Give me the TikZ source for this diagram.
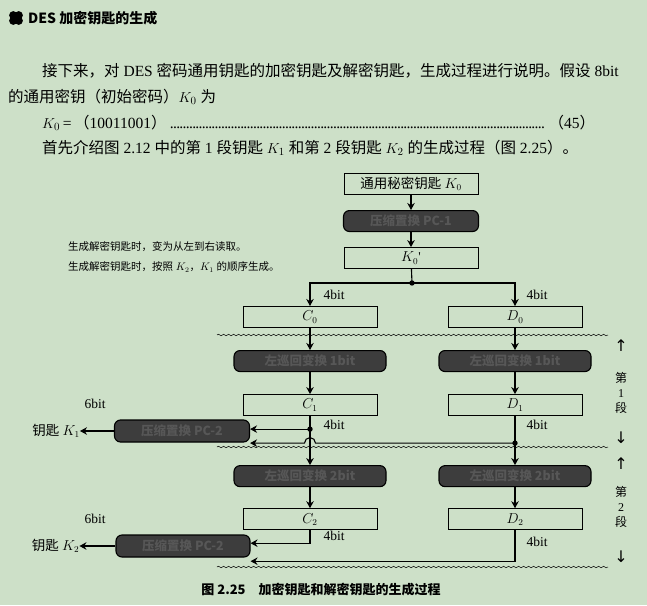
\documentclass[tikz,border=0pt]{standalone}
\usepackage{fontspec}
\setmainfont{Liberation Serif}
\newfontfamily\cjk{Noto Sans CJK SC}
\newfontfamily\symfont{DejaVu Sans}
\usetikzlibrary{positioning,arrows.meta,calc,decorations.pathmorphing}
\definecolor{bgmint}{RGB}{205,224,200}
\newcommand\zh[1]{{\cjk #1}}

\tikzset{
	bodytext/.style={anchor=west, inner sep=0pt, font=\fontsize{15.5}{18}\selectfont},
	notetext/.style={anchor=west, inner sep=0pt, font=\fontsize{10.5}{12}\selectfont},
	plainbox/.style={draw, line width=1pt, minimum width=134pt, minimum height=21pt, inner sep=0pt, font=\fontsize{13.5}{15}\selectfont},
	darkbox/.style={draw, line width=1.1pt, rounded corners=6pt, fill=black!76, text=black!66, minimum width=152pt, minimum height=21pt, inner sep=0pt, font=\cjk\bfseries\fontsize{12.5}{14}\selectfont},
	bitlabel/.style={inner sep=0pt, font=\fontsize{13.5}{15}\selectfont},
	arr/.style={-{Stealth[length=7pt,width=7.5pt]}, line width=1.1pt},
	junction/.style={circle, fill, inner sep=1.9pt},
	wave/.style={decorate, decoration={snake, amplitude=0.8pt, segment length=5pt}, line width=0.5pt}
}

\begin{document}
\begin{tikzpicture}[x=1pt, y=-1pt]
	\fill[bgmint] (0,0) rectangle (647,605);
	\useasboundingbox (0,0) rectangle (647,605);

	% heading and text
	\foreach \a in {45,135,225,315}
		\fill (16,18) ++(\a:3.8pt) circle (4.2pt);
	\node[anchor=west, inner sep=0pt, font=\cjk\bfseries\fontsize{14}{16}\selectfont] (title) at (28,18) {DES 加密钥匙的生成};
	\node[bodytext] (line1) at (42,71) {\zh{接下来，对} DES \zh{密码通用钥匙的加密钥匙及解密钥匙，生成过程进行说明。假设} 8bit};
	\node[bodytext] (line2) at (8,97) {\zh{的通用密钥（初始密码）}$K_0$ \zh{为}};
	\node[bodytext] (line3) at (42,123) {\makebox[553pt][l]{$K_0$\,=\,\zh{（}10011001\zh{）}\,\leaders\hbox to 3.2pt{\hss.\hss}\hfill\,\zh{（}45\zh{）}}};
	\node[bodytext] (line4) at (42,148) {\zh{首先介绍图} 2.12 \zh{中的第} 1 \zh{段钥匙} $K_1$ \zh{和第} 2 \zh{段钥匙} $K_2$ \zh{的生成过程（图} 2.25\zh{）。}};

	\node[notetext] (note1) at (68,247) {\zh{生成解密钥匙时，变为从左到右读取。}};
	\node[notetext] (note2) at (68,267) {\zh{生成解密钥匙时，按照} $K_2$\zh{，}$K_1$ \zh{的顺序生成。}};

	% main chain
	\node[plainbox] (k0) at (411,184) {\zh{通用秘密钥匙} $K_0$};
	\node[darkbox, minimum width=135pt] (pc1) [below=15pt of k0] {压缩置换 PC-1};
	\node[plainbox] (k0p) [below=15pt of pc1] {$K_0$\textquotesingle};
	\coordinate (split) at (412,283);

	\node[plainbox] (c0) at (310,317) {$C_0$};
	\node[plainbox] (d0) at (515,317) {$D_0$};
	\node[darkbox] (sc1) [below=22pt of c0] {左巡回变换 1bit};
	\node[darkbox] (sd1) [below=22pt of d0] {左巡回变换 1bit};
	\node[plainbox] (c1) [below=22pt of sc1] {$C_1$};
	\node[plainbox] (d1) [below=22pt of sd1] {$D_1$};
	\node[darkbox] (sc2) [below=49pt of c1] {左巡回变换 2bit};
	\node[darkbox] (sd2) [below=49pt of d1] {左巡回变换 2bit};
	\node[plainbox] (c2) [below=21pt of sc2] {$C_2$};
	\node[plainbox] (d2) [below=21pt of sd2] {$D_2$};

	\node[darkbox, minimum width=135pt, minimum height=22pt] (pca) at (182,431) {压缩置换 PC-2};
	\node[darkbox, minimum width=134pt, minimum height=22pt] (pcb) at (183,546) {压缩置换 PC-2};
	\node[bodytext, anchor=east, font=\fontsize{13.5}{15}\selectfont] (key1) [left=34pt of pca] {\zh{钥匙} $K_1$};
	\node[bodytext, anchor=east, font=\fontsize{13.5}{15}\selectfont] (key2) [left=36pt of pcb] {\zh{钥匙} $K_2$};

	\coordinate[below=13pt of c1] (jc1);
	\coordinate[below=27pt of d1] (jd1);
	\coordinate[below=13pt of c2] (jc2);
	\coordinate[below=31pt of d2] (jd2);

	% waves
	\draw[wave] (217,335) -- (608,335);
	\draw[wave] (217,447) -- (608,447);
	\draw[wave] (217,567) -- (608,567);

	% connectors
	\draw[arr] (k0) -- (pc1);
	\draw[arr] (pc1) -- (k0p);
	\draw[line width=1.1pt] (k0p) -- (split);
	\node[junction] at (split) {};
	\draw[arr] (split) -| (c0);
	\draw[arr] (split) -| (d0);

	\draw[arr] (c0) -- (sc1);
	\draw[arr] (d0) -- (sd1);
	\draw[arr] (sc1) -- (c1);
	\draw[arr] (sd1) -- (d1);
	\draw[arr] (c1) -- (sc2);
	\draw[arr] (d1) -- (sd2);
	\node[junction] at (jc1) {};
	\node[junction] at (jd1) {};
	\draw[arr] (jc1) -- (jc1 -| pca.east);
	\draw[arr] (jd1) -- ($(jd1 -| c1)+(5.5pt,0)$) arc[start angle=0, end angle=180, radius=5.5pt] -- (jd1 -| pca.east);
	\draw[arr] (pca) -- (key1);

	\draw[arr] (sc2) -- (c2);
	\draw[arr] (sd2) -- (d2);
	\draw[arr] (c2) -- (jc2) -- (jc2 -| pcb.east);
	\draw[arr] (d2) -- (jd2) -- (jd2 -| pcb.east);
	\draw[arr] (pcb) -- (key2);

	% labels
	\node[bitlabel] (b0l) at (334,295) {4bit};
	\node[bitlabel] (b0r) at (537,295) {4bit};
	\node[bitlabel] (b1l) at (334,425) {4bit};
	\node[bitlabel] (b1r) at (537,425) {4bit};
	\node[bitlabel] (b2l) at (334,536) {4bit};
	\node[bitlabel] (b2r) at (537,542) {4bit};
	\node[bitlabel] (six1) at (95,404) {6bit};
	\node[bitlabel] (six2) at (95,519) {6bit};

	\node[inner sep=0pt, font=\symfont\fontsize{16}{16}\selectfont] (up1) at (621,346) {↑};
	\node[inner sep=0pt, align=center, font=\fontsize{12}{15}\selectfont] (seg1) at (621,393) {\zh{第}\\1\\\zh{段}};
	\node[inner sep=0pt, font=\symfont\fontsize{16}{16}\selectfont] (down1) at (621,438) {↓};
	\node[inner sep=0pt, font=\symfont\fontsize{16}{16}\selectfont] (up2) at (621,464) {↑};
	\node[inner sep=0pt, align=center, font=\fontsize{12}{15}\selectfont] (seg2) at (621,507) {\zh{第}\\2\\\zh{段}};
	\node[inner sep=0pt, font=\symfont\fontsize{16}{16}\selectfont] (down2) at (621,557) {↓};

	\node[inner sep=0pt, font=\cjk\bfseries\fontsize{13}{15}\selectfont] (caption) at (321,590) {图 2.25\quad 加密钥匙和解密钥匙的生成过程};
\end{tikzpicture}
\end{document}
